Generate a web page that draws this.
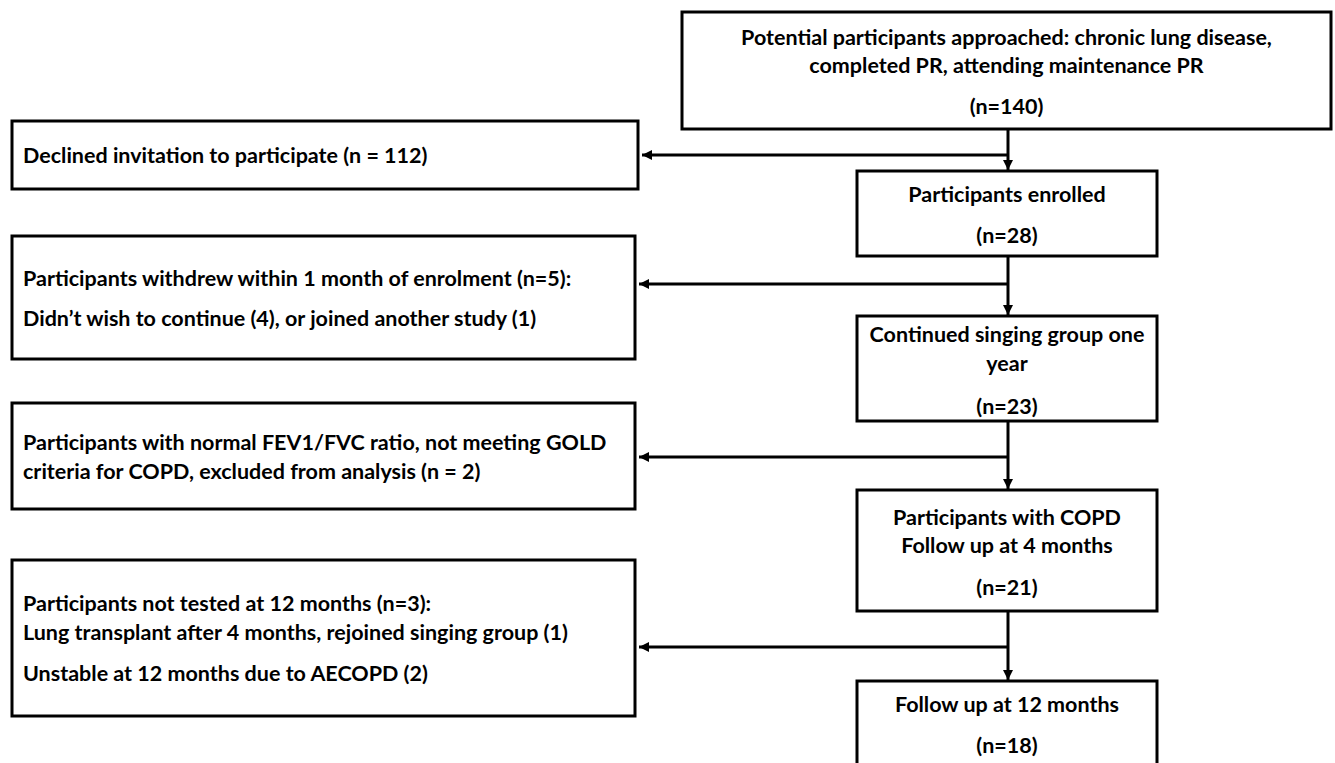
<!DOCTYPE html>
<html>
<head>
<meta charset="utf-8">
<script src="https://cdn.jsdelivr.net/npm/d3@7"></script>
<style>
  html, body { margin: 0; padding: 0; background: #fff; }
  svg { display: block; }
  text { font-family: Lato, 'Open Sans', sans-serif; font-weight: 700; fill: #000; }
</style>
</head>
<body>
<div id="wrapper"></div>
<script>
// Main flow: stage labels and counts
const stageLabels = [
  ['Potential participants approached: chronic lung disease,', 'completed PR, attending maintenance PR'],
  ['Participants enrolled'],
  ['Continued singing group one', 'year'],
  ['Participants with COPD', 'Follow up at 4 months'],
  ['Follow up at 12 months'],
]
const stageCounts = [140, 28, 23, 21, 18]

// Side boxes: people leaving between stages
const exclusionLabels = [
  ['Declined invitation to participate (n = 112)'],
  ['Participants withdrew within 1 month of enrolment (n=5):', 'Didn\u2019t wish to continue (4), or joined another study (1)'],
  ['Participants with normal FEV1/FVC ratio, not meeting GOLD', 'criteria for COPD, excluded from analysis (n = 2)'],
  ['Participants not tested at 12 months (n=3):', 'Lung transplant after 4 months, rejoined singing group (1)', 'Unstable at 12 months due to AECOPD (2)'],
]

// layout (pixels)
const width = 1335
const height = 763
const fontSize = 21.5
const strokeW = 3
const flowX = 1008
const stageBox = [
  { x0: 682, x1: 1331, y0: 12, y1: 129, lineY: [37, 65], nY: 106 },
  { x0: 857, x1: 1157, y0: 171, y1: 256, lineY: [194], nY: 235 },
  { x0: 857, x1: 1157, y0: 316, y1: 421, lineY: [334, 363], nY: 406 },
  { x0: 857, x1: 1157, y0: 490, y1: 611, lineY: [517, 545], nY: 587 },
  { x0: 857, x1: 1157, y0: 681, y1: 780, lineY: [704], nY: 745 },
]
const exclBox = [
  { x0: 12, x1: 638, y0: 121, y1: 189, lineY: [155], arrowY: 155 },
  { x0: 12, x1: 635, y0: 236, y1: 359, lineY: [278, 318], arrowY: 284 },
  { x0: 12, x1: 635, y0: 403, y1: 509, lineY: [442, 471], arrowY: 457 },
  { x0: 12, x1: 635, y0: 560, y1: 716, lineY: [603, 632, 673], arrowY: 647 },
]
const textPadLeft = 11

const svg = d3
  .select('#wrapper')
  .append('svg')
  .attr('width', width)
  .attr('height', height)

svg
  .append('defs')
  .append('marker')
  .attr('id', 'arrow')
  .attr('viewBox', '0 0 10 10')
  .attr('refX', 10)
  .attr('refY', 5)
  .attr('markerUnits', 'userSpaceOnUse')
  .attr('markerWidth', 11)
  .attr('markerHeight', 10)
  .attr('orient', 'auto')
  .append('path')
  .attr('d', 'M0,0 L10,5 L0,10 Z')
  .attr('fill', '#000')

const stages = stageLabels.map((lines, i) => ({ lines, n: stageCounts[i], ...stageBox[i] }))
const exclusions = exclusionLabels.map((lines, i) => ({ lines, ...exclBox[i] }))

// connectors first, boxes on top
const links = svg.append('g').attr('class', 'links')

links
  .selectAll('line.down')
  .data(stages.slice(1))
  .join('line')
  .attr('class', 'down')
  .attr('x1', flowX)
  .attr('x2', flowX)
  .attr('y1', (d, i) => stages[i].y1)
  .attr('y2', (d) => d.y0 - 1)
  .attr('stroke', '#000')
  .attr('stroke-width', strokeW)
  .attr('marker-end', 'url(#arrow)')

links
  .selectAll('line.side')
  .data(exclusions)
  .join('line')
  .attr('class', 'side')
  .attr('x1', flowX)
  .attr('x2', (d) => d.x1 + 4)
  .attr('y1', (d) => d.arrowY)
  .attr('y2', (d) => d.arrowY)
  .attr('stroke', '#000')
  .attr('stroke-width', strokeW)
  .attr('marker-end', 'url(#arrow)')

// main stage boxes
const stageG = svg
  .append('g')
  .attr('class', 'stages')
  .selectAll('g')
  .data(stages)
  .join('g')

stageG
  .append('rect')
  .attr('x', (d) => d.x0)
  .attr('y', (d) => d.y0)
  .attr('width', (d) => d.x1 - d.x0)
  .attr('height', (d) => d.y1 - d.y0)
  .attr('fill', '#fff')
  .attr('stroke', '#000')
  .attr('stroke-width', strokeW)

stageG
  .selectAll('text.label')
  .data((d) =>
    d.lines
      .map((t, j) => ({ t, y: d.lineY[j] }))
      .concat([{ t: `(n=${d.n})`, y: d.nY }])
      .map((o) => ({ ...o, cx: (d.x0 + d.x1) / 2 })),
  )
  .join('text')
  .attr('class', 'label')
  .attr('x', (d) => d.cx)
  .attr('y', (d) => d.y)
  .attr('dy', '0.35em')
  .attr('text-anchor', 'middle')
  .style('font-size', `${fontSize}px`)
  .text((d) => d.t)

// exclusion boxes
const exclG = svg
  .append('g')
  .attr('class', 'exclusions')
  .selectAll('g')
  .data(exclusions)
  .join('g')

exclG
  .append('rect')
  .attr('x', (d) => d.x0)
  .attr('y', (d) => d.y0)
  .attr('width', (d) => d.x1 - d.x0)
  .attr('height', (d) => d.y1 - d.y0)
  .attr('fill', '#fff')
  .attr('stroke', '#000')
  .attr('stroke-width', strokeW)

exclG
  .selectAll('text.label')
  .data((d) => d.lines.map((t, j) => ({ t, y: d.lineY[j], x: d.x0 + textPadLeft })))
  .join('text')
  .attr('class', 'label')
  .attr('x', (d) => d.x)
  .attr('y', (d) => d.y)
  .attr('dy', '0.35em')
  .style('font-size', `${fontSize}px`)
  .text((d) => d.t)
</script>
</body>
</html>
